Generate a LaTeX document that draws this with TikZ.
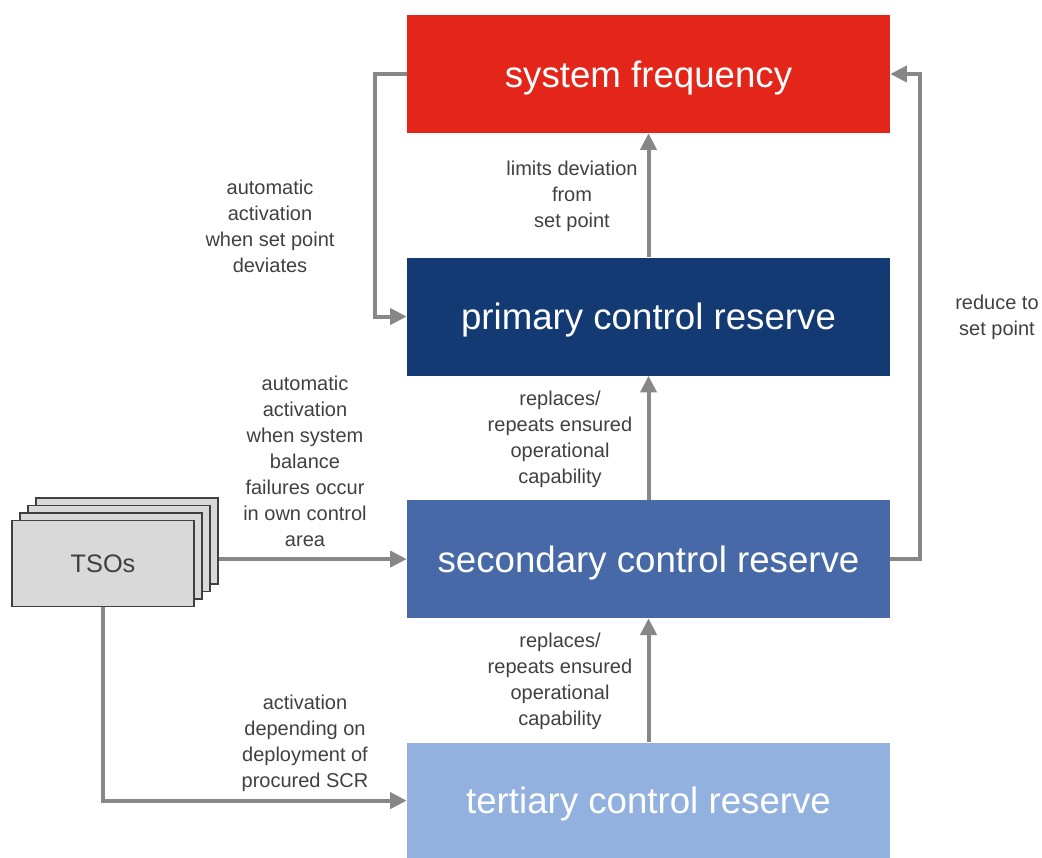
\documentclass[tikz,border=0pt]{standalone}
\usepackage{fontspec}
\setmainfont{Liberation Sans}
\usetikzlibrary{positioning,arrows.meta}

\definecolor{freqred}{HTML}{E42519}
\definecolor{primblue}{HTML}{133A73}
\definecolor{secblue}{HTML}{4769A8}
\definecolor{tertblue}{HTML}{92B1DF}
\definecolor{flowgray}{HTML}{878787}
\definecolor{textgray}{HTML}{404040}
\definecolor{tsofill}{HTML}{D9D9D9}

\begin{document}
\begin{tikzpicture}[x=0.75pt, y=-0.75pt,
						reserve/.style={rectangle, minimum width=362.25pt, minimum height=88.5pt, inner sep=0pt, text height=24pt, text depth=4pt, text=white, font=\fontsize{27.5}{33}\selectfont},
						tsobox/.style={rectangle, draw=textgray, fill=tsofill, thick, minimum width=136.5pt, minimum height=64.5pt, inner sep=0pt},
						note/.style={align=center, inner sep=0pt, text=textgray, font=\fontsize{15}{19.5}\selectfont},
						flow/.style={draw=flowgray, line width=3pt, -{Triangle[length=12.5pt, width=12pt]}}
					]
					\useasboundingbox (0,0) rectangle (1042,857);
					\node[reserve, fill=freqred] (sysfreq) at (648.5,74) {system frequency};
					\node[reserve, fill=primblue] (primary) [below=93pt of sysfreq] {primary control reserve};
					\node[reserve, fill=secblue] (secondary) [below=93pt of primary] {secondary control reserve};
					\node[reserve, fill=tertblue, minimum height=87pt] (tertiary) [below=93pt of secondary] {tertiary control reserve};
					% stacked TSO boxes, back to front
					\foreach \i in {3,2,1}
						\node[tsobox] (tso\i) at (103+8*\i,563.5-7.5*\i) {};
					\node[tsobox, text=textgray, font=\fontsize{19}{23}\selectfont] (tsos) at (103,563.5) {TSOs};
					\node[note] (lblauto) at (270,226) {automatic\\activation\\when set point\\deviates};
					\node[note] (lbllimits) at (572,196) {limits deviation\\from\\set point};
					\node[note] (lblreduce) at (997,317) {reduce to\\set point};
					\node[note] (lblbalance) at (305,461) {automatic\\activation\\when system\\balance\\failures occur\\in own control\\area};
					\node[note] (lblrepl1) at (560,439) {replaces/\\repeats ensured\\operational\\capability};
					\node[note] (lblrepl2) at (560,681) {replaces/\\repeats ensured\\operational\\capability};
					\node[note] (lblscr) at (305,743) {activation\\depending on\\deployment of\\procured SCR};
					\begin{scope}[flow]
					\draw (sysfreq.west) -- ++(-32,0) |- (primary.west);
					\draw (primary.north) -- (sysfreq.south);
					\draw (secondary.north) -- (primary.south);
					\draw (tertiary.north) -- (secondary.south);
					\draw (secondary.east) -- ++(30,0) |- (sysfreq.east);
					\draw (secondary.west -| tso3.east) -- (secondary.west);
					\draw (tsos.south) |- (tertiary.west);
					\end{scope}
\end{tikzpicture}
\end{document}
